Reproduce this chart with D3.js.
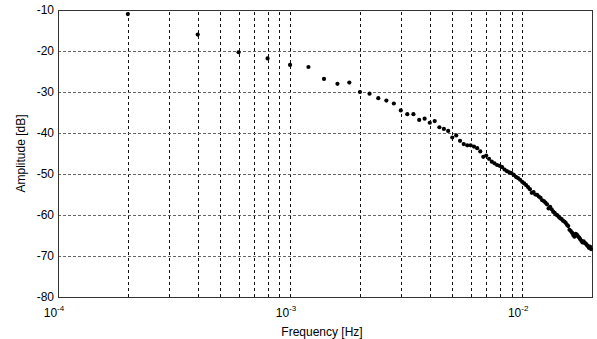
<!DOCTYPE html>
<html>
<head>
<meta charset="utf-8">
<script src="https://cdn.jsdelivr.net/npm/d3@7"></script>
<style>
  body { margin: 0; background: #fff; }
  text { font-family: "Liberation Sans", Arial, sans-serif; fill: #000; }
</style>
</head>
<body>
<div id="chart"></div>
<script>
// size of the picture
const width = 597, height = 339;
const margin = {top: 10, right: 5, bottom: 42, left: 58};

// frequency step of the measurement (Hz) and the point index
const step = 2e-4;
const index = d3.range(1, 100);
// amplitude, one per frequency step (dB)
const amplitude = [
  -11.0, -16.0, -20.3, -21.8, -23.4, -23.9, -26.8, -28.0, -27.7, -30.0,
  -30.4, -31.5, -32.1, -32.8, -34.5, -35.4, -35.4, -36.8, -36.5, -37.5,
  -37.1, -38.6, -39.0, -39.5, -41.1, -40.6, -41.9, -42.7, -43.0, -43.0,
  -43.3, -43.7, -44.5, -45.8, -45.5, -46.3, -47.0, -47.4, -47.8, -48.0,
  -48.3, -48.9, -49.3, -49.6, -49.8, -50.2, -50.7, -51.0, -51.4, -51.9,
  -52.3, -52.7, -53.2, -53.7, -54.6, -54.4, -55.0, -55.1, -55.5, -55.8,
  -56.4, -56.6, -57.0, -57.4, -58.4, -58.0, -58.6, -59.2, -59.5, -59.9,
  -60.1, -60.5, -60.8, -61.0, -61.4, -61.6, -61.9, -62.4, -62.7, -63.6,
  -63.9, -64.3, -64.9, -65.3, -64.6, -64.8, -65.2, -65.5, -65.9, -66.3,
  -66.7, -66.4, -66.8, -67.0, -67.3, -67.6, -68.0, -67.7, -68.3
];
const data = index.map((n, i) => ({f: n * step, a: amplitude[i]}));

// axes
const xDomain = [1e-4, 2e-2];
const yDomain = [-80, -10];
const yTicks = [-80, -70, -60, -50, -40, -30, -20, -10];
const xMajor = [1e-4, 1e-3, 1e-2];
const xExponent = ["-4", "-3", "-2"];

const x = d3.scaleLog().domain(xDomain).range([margin.left, width - margin.right]);
const y = d3.scaleLinear().domain(yDomain).range([height - margin.bottom, margin.top]);

const svg = d3.select("#chart").append("svg")
    .attr("width", width).attr("height", height);

// grid lines
const xGrid = x.ticks().filter(d => d > xDomain[0] * 1.01 && d < xDomain[1] * 0.99);
svg.append("g").selectAll("line")
    .data(xGrid)
    .join("line")
    .attr("x1", d => Math.round(x(d)) + 0.5).attr("x2", d => Math.round(x(d)) + 0.5)
    .attr("y1", y(yDomain[0])).attr("y2", y(yDomain[1]))
    .attr("stroke", "#111").attr("stroke-dasharray", "3,3");

svg.append("g").selectAll("line")
    .data(yTicks.slice(1, -1))
    .join("line")
    .attr("x1", x(xDomain[0])).attr("x2", x(xDomain[1]))
    .attr("y1", d => Math.round(y(d)) + 0.5).attr("y2", d => Math.round(y(d)) + 0.5)
    .attr("stroke", "#666").attr("stroke-dasharray", "3,2");

// frame
svg.append("rect")
    .attr("x", Math.round(x(xDomain[0])) + 0.5).attr("y", Math.round(y(yDomain[1])) + 0.5)
    .attr("width", Math.round(x(xDomain[1]) - x(xDomain[0])))
    .attr("height", Math.round(y(yDomain[0]) - y(yDomain[1])))
    .attr("fill", "none").attr("stroke", "#333");

// y tick labels
svg.append("g").selectAll("text")
    .data(yTicks)
    .join("text")
    .attr("x", x(xDomain[0]) - 4)
    .attr("y", d => y(d) + 4)
    .attr("text-anchor", "end")
    .attr("font-size", 12)
    .text(d => d);

// x tick labels, 10 with a raised exponent
const xl = svg.append("g").selectAll("text")
    .data(xMajor)
    .join("text")
    .attr("x", d => x(d) - 4)
    .attr("y", y(yDomain[0]) + 20)
    .attr("text-anchor", "middle")
    .attr("font-size", 12);
xl.append("tspan").text("10");
xl.append("tspan").attr("font-size", 8).attr("dy", -6).text((d, i) => xExponent[i]);

// axis titles
svg.append("text")
    .attr("x", (x(xDomain[0]) + x(xDomain[1])) / 2 - 3)
    .attr("y", height - 3)
    .attr("text-anchor", "middle")
    .attr("font-size", 12)
    .text("Frequency [Hz]");

svg.append("text")
    .attr("transform", `translate(25,${(y(yDomain[0]) + y(yDomain[1])) / 2}) rotate(-90)`)
    .attr("text-anchor", "middle")
    .attr("font-size", 12)
    .text("Amplitude [dB]");

// points
svg.append("g").selectAll("circle")
    .data(data)
    .join("circle")
    .attr("cx", d => x(d.f))
    .attr("cy", d => y(d.a))
    .attr("r", 2.1)
    .attr("fill", "#000");
</script>
</body>
</html>
